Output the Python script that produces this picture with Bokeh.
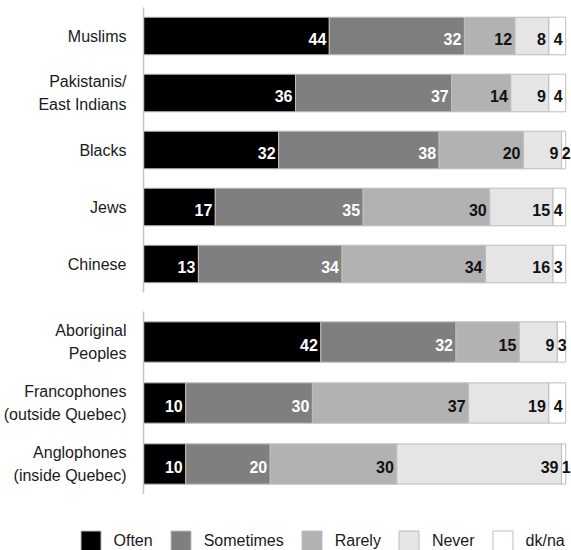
from bokeh.plotting import figure
from bokeh.models import ColumnDataSource, Range1d, FactorRange, Legend, LegendItem
from bokeh.layouts import column
from bokeh.embed import file_html
from bokeh.resources import INLINE
from bokeh.core.properties import value

# ---- data ----
series = ["Often", "Sometimes", "Rarely", "Never", "dk/na"]
colors = ["#000000", "#7f7f7f", "#b2b2b2", "#e5e5e5", "#ffffff"]
label_colors = ["#ffffff", "#ffffff", "#111111", "#111111", "#111111"]

top_groups = ["Muslims", "Pakistanis/\nEast Indians", "Blacks", "Jews", "Chinese"]
top_often = [44, 36, 32, 17, 13]
top_sometimes = [32, 37, 38, 35, 34]
top_rarely = [12, 14, 20, 30, 34]
top_never = [8, 9, 9, 15, 16]
top_dkna = [4, 4, 2, 4, 3]

bot_groups = ["Aboriginal\nPeoples", "Francophones\n(outside Quebec)", "Anglophones\n(inside Quebec)"]
bot_often = [42, 10, 10]
bot_sometimes = [32, 30, 20]
bot_rarely = [15, 37, 30]
bot_never = [9, 19, 39]
bot_dkna = [3, 4, 1]

FONT = "Liberation Sans"
keys = ["often", "sometimes", "rarely", "never", "dk_bar"]
OUTLINE = "#bdbdbd"


def make_fig(groups, often, sometimes, rarely, never, dkna, frame_h, top_b, bot_b):
    dk_bar = [max(0, 100 - (a + b + c + d)) for a, b, c, d in zip(often, sometimes, rarely, never)]
    src = ColumnDataSource(dict(group=groups, often=often, sometimes=sometimes,
                                rarely=rarely, never=never, dk_bar=dk_bar))
    p = figure(y_range=FactorRange(factors=list(reversed(groups)), range_padding=0),
               x_range=Range1d(0, 101.6), frame_width=429, frame_height=frame_h,
               min_border_left=142, min_border_right=0, min_border_top=top_b,
               min_border_bottom=bot_b, x_axis_location=None,
               output_backend="svg", toolbar_location=None)
    p.hbar_stack(keys, y="group", height=0.66, color=colors,
                 line_color=OUTLINE, line_width=1, source=src)
    # labels
    xs, ys, ts, cs = [], [], [], []
    for i, g in enumerate(groups):
        start = 0
        vals = [often[i], sometimes[i], rarely[i], never[i], dkna[i]]
        bars = [often[i], sometimes[i], rarely[i], never[i], dk_bar[i]]
        for j in range(5):
            end = start + bars[j]
            xs.append(max(end, start + 2.9))
            ys.append(g)
            ts.append(str(vals[j]))
            cs.append(label_colors[j])
            start = end
    lsrc = ColumnDataSource(dict(x=xs, y=ys, t=ts, c=cs))
    p.text(x="x", y="y", text="t", text_color="c", source=lsrc,
           text_align="right", text_baseline="middle", x_offset=-3, y_offset=3,
           text_font=value(FONT), text_font_style="bold", text_font_size="16px")
    p.xgrid.visible = False
    p.ygrid.visible = False
    p.outline_line_color = None
    ax = p.yaxis[0]
    ax.major_tick_line_color = None
    ax.minor_tick_line_color = None
    ax.axis_line_color = "#c4c4c4"
    ax.axis_line_width = 1.5
    ax.major_label_text_font = FONT
    ax.major_label_text_font_size = "16px"
    ax.major_label_text_color = "#1a1a1a"
    ax.major_label_standoff = 11
    ax.major_label_text_line_height = 1.35
    return p


p1 = make_fig(top_groups, top_often, top_sometimes, top_rarely, top_never, top_dkna, 285, 7, 8)
p2 = make_fig(bot_groups, bot_often, bot_sometimes, bot_rarely, bot_never, bot_dkna, 183, 11, 0)

# legend figure (swatch renderers sit outside the visible range; only their legend shows)
p3 = figure(frame_width=571, frame_height=59, x_range=Range1d(0, 1), y_range=Range1d(0, 1),
            min_border=0, x_axis_location=None, y_axis_location=None,
            output_backend="svg", toolbar_location=None)
p3.xgrid.visible = False
p3.ygrid.visible = False
p3.outline_line_color = None
hidden = ColumnDataSource(dict(y=[-5], left=[0], right=[1]))
items = []
for s, c in zip(series, colors):
    r = p3.hbar(y="y", left="left", right="right", height=0.5, fill_color=c,
                line_color=OUTLINE, line_width=1, source=hidden)
    items.append(LegendItem(label=s, renderers=[r]))
legend = Legend(items=items, orientation="horizontal", location=(77.5, 0),
                glyph_width=25, glyph_height=25, label_standoff=11, spacing=15,
                padding=0, margin=0, border_line_color=None, background_fill_alpha=0,
                label_text_font=FONT, label_text_font_size="16px",
                label_text_color="#1a1a1a", label_height=25)
p3.add_layout(legend, "center")

layout = column(p1, p2, p3, spacing=0)
open("out.html", "w").write(file_html(layout, INLINE))
